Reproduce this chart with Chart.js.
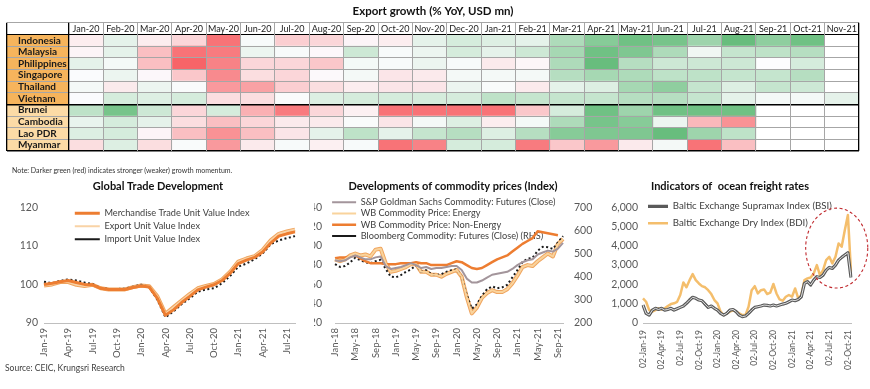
<!DOCTYPE html>
<html>
<head>
<meta charset="utf-8">
<script src="https://cdn.jsdelivr.net/npm/chart.js@4.4.0/dist/chart.umd.min.js"></script>
<style>
  body { margin: 0; width: 870px; height: 389px; background: #fff; position: relative; overflow: hidden; font-family: Lato, sans-serif; }
  .box { position: absolute; }
  .note { position: absolute; left: 12px; top: 166px; font-size: 7px; line-height: 8px; color: #333; }
  .src { position: absolute; left: 5px; top: 363px; font-size: 8.5px; line-height: 10px; color: #404040; }
</style>
</head>
<body>
<div class="box" style="left:0;top:0"><canvas id="heat" width="870" height="168"></canvas></div>
<div class="note">Note: Darker green (red) indicates stronger (weaker) growth momentum.</div>
<div class="box" style="left:0;top:176px"><canvas id="trade" width="300" height="187"></canvas></div>
<div class="box" style="left:296px;top:176px"><canvas id="commo" width="296" height="189"></canvas></div>
<div class="box" style="left:592px;top:176px"><canvas id="freight" width="278" height="199"></canvas></div>
<div class="src">Source: CEIC, Krungsri Research</div>

<script>
Chart.defaults.font.family = 'Lato';
Chart.defaults.color = '#595959';
Chart.defaults.animation = false;

// ---- heatmap: export growth momentum (-1 = darkest red, 1 = darkest green)
const months = ['Jan-20', 'Feb-20', 'Mar-20', 'Apr-20', 'May-20', 'Jun-20', 'Jul-20', 'Aug-20', 'Sep-20', 'Oct-20', 'Nov-20', 'Dec-20',
  'Jan-21', 'Feb-21', 'Mar-21', 'Apr-21', 'May-21', 'Jun-21', 'Jul-21', 'Aug-21', 'Sep-21', 'Oct-21', 'Nov-21'];
const countries = ['Indonesia', 'Malaysia', 'Philippines', 'Singapore', 'Thailand', 'Vietnam', 'Brunei', 'Cambodia', 'Lao PDR', 'Myanmar'];

const indonesia = [-0.1, 0.15, -0.1, -0.25, -0.9, 0.03, -0.3, -0.25, -0.05, -0.1, 0.15, 0.25, 0.2, 0.15, 0.5, 0.75, 0.9, 0.85, 0.6, 0.95, 0.7, 0.9, null];
const malaysia = [-0.05, 0.15, -0.4, -0.9, -0.85, 0.1, 0.03, -0.03, 0.3, 0.03, 0.1, 0.25, 0.15, 0.3, 0.55, 0.9, 0.8, 0.5, 0.08, 0.35, 0.4, 0.45, null];
const philippines = [0.15, 0.05, -0.4, -1.0, -0.8, -0.25, -0.25, -0.35, 0.05, 0.03, 0.1, 0.03, -0.12, -0.04, 0.5, 0.95, 0.45, 0.3, 0.3, 0.3, 0, 0.25, null];
const singapore = [0.01, 0.1, -0.03, -0.35, -0.75, -0.2, -0.25, -0.02, 0.05, -0.15, -0.12, 0.05, 0.05, 0.05, 0.45, 0.55, 0.5, 0.4, 0.4, 0.35, 0.35, 0.45, null];
const thailand = [0.05, -0.12, 0.1, 0.02, -0.65, -0.6, -0.3, -0.2, -0.1, -0.15, -0.15, 0.1, 0.02, -0.12, 0.15, 0.2, 0.55, 0.7, 0.35, 0.2, 0.35, 0.3, null];
const vietnam = [0.01, 0.25, 0.2, 0.25, -0.2, -0.2, 0.02, 0.2, 0.25, 0.25, 0.25, 0.25, 0.4, 0.35, 0.35, 0.35, 0.45, 0.45, 0.35, 0.15, 0.05, 0.05, 0.15];
const brunei = [0.4, 0.85, 0.3, -0.25, 0.25, -0.5, -0.85, -0.25, -0.08, -0.9, -0.9, -0.9, -0.9, -0.35, 0.25, 0.9, 0.6, 0.9, 0.9, 0.9, null, null, null];
const cambodia = [0.12, 0.25, 0.15, -0.2, -0.4, -0.25, -0.12, -0.12, 0.02, -0.15, 0.05, 0.2, -0.1, 0.05, 0.5, 0.85, 0.75, 0.1, -0.45, -0.7, null, null, null];
const laos = [0.2, 0.25, -0.05, -0.4, -0.7, -0.4, -0.15, 0.15, 0.4, 0.15, 0.35, 0.45, 0.2, 0.45, 0.75, 0.8, 0.8, 0.95, 0.6, 0.4, null, null, null];
const myanmar = [-0.2, 0.2, -0.2, 0.02, -0.65, -0.12, 0.03, -0.08, 0.03, -0.9, -0.8, 0.25, 0.25, -0.85, -0.35, -0.65, -0.12, 0.05, -0.9, -0.4, null, null, null];

// ---- global trade (index)
const tradeMonths = monthLabels(2019, 0, 32);
const merchandise = [100.0, 100.3, 100.7, 101.0, 100.5, 100.0, 99.9, 99.0, 98.7, 98.7, 98.7, 99.2,
  99.6, 99.3, 96.4, 92.0, 93.4, 95.3, 96.9, 98.6, 99.3, 99.9, 101.0, 102.9,
  105.4, 106.3, 107.0, 108.4, 110.7, 112.5, 113.1, 113.6];
const exportIdx = [99.7, 100.0, 100.6, 100.6, 99.9, 99.6, 99.9, 99.0, 98.7, 98.7, 98.7, 99.3,
  99.7, 99.5, 96.9, 92.4, 94.1, 95.8, 97.5, 99.0, 99.6, 100.1, 101.3, 103.3,
  105.9, 106.7, 107.3, 108.9, 111.4, 113.1, 113.7, 114.2];
const importIdx = [100.7, 100.3, 100.9, 101.3, 101.0, 100.5, 100.1, 99.0, 98.8, 98.8, 98.9, 99.4,
  99.9, 99.3, 96.0, 91.5, 93.0, 94.9, 96.4, 98.1, 98.7, 99.0, 100.3, 102.2,
  104.6, 105.4, 106.5, 108.0, 110.4, 111.4, 112.0, 112.5];

// ---- commodity prices (index; Bloomberg on RHS)
const commoMonths = monthLabels(2018, 0, 46);
const gsci = [85, 84, 85, 88, 90, 88, 86, 86, 88, 89, 79, 76,
  77, 78, 80, 82, 80, 77, 78, 76, 77, 77, 78, 79,
  79, 75, 66, 62, 62, 64, 67, 70, 71, 72, 73, 76,
  80, 83, 85, 86, 91, 93, 95, 94, 97, 103];
const energy = [86, 84, 86, 90, 92, 90, 91, 89, 96, 97, 82, 73,
  74, 76, 78, 81, 81, 73, 73, 70, 70, 68, 71, 73,
  75, 68, 47, 30, 36, 46, 51, 54, 52, 52, 55, 61,
  69, 78, 80, 79, 84, 88, 92, 89, 102, 107];
const nonEnergy = [87, 88, 88, 89, 90, 87, 84, 82, 82, 82, 81, 81,
  81, 82, 82, 82, 83, 82, 82, 80, 80, 80, 80, 82,
  84, 83, 80, 77, 76, 77, 80, 83, 86, 88, 90, 94,
  98, 102, 105, 108, 115, 114, 113, 112, 111, null];
const bloomberg = [454, 442, 446, 462, 482, 471, 462, 458, 467, 473, 433, 400,
  397, 407, 421, 431, 450, 421, 428, 411, 407, 411, 421, 428,
  431, 400, 322, 262, 280, 318, 346, 358, 350, 354, 365, 397,
  428, 463, 477, 482, 512, 529, 527, 520, 548, 575];

// ---- ocean freight (semi-monthly readings)
const freightDates = freightLabels(2019, 68);
const bsi = [930, 500, 410, 670, 760, 700, 760, 670, 700, 760, 670, 740,
  810, 880, 1020, 1190, 1330, 1280, 1190, 1155, 980, 810, 880, 760,
  670, 500, 410, 500, 670, 700, 590, 410, 330, 360, 500, 670,
  810, 845, 880, 930, 915, 880, 930, 880, 930, 980, 1020, 1100,
  1190, 1155, 1220, 1360, 2050, 2140, 1970, 2220, 2400, 2360, 2480, 2740,
  2880, 2830, 3000, 3260, 3400, 3520, 3640, 2360];
const bdi = [1275, 1100, 670, 590, 670, 760, 700, 760, 880, 980, 1020, 1100,
  1450, 2100, 1850, 2220, 2530, 2220, 2050, 1910, 1850, 1700, 1500, 1190,
  1020, 590, 410, 500, 590, 670, 590, 500, 410, 410, 845, 1700,
  1910, 1530, 1700, 1740, 1500, 1570, 2020, 1530, 1220, 1155, 1360, 1450,
  1360, 1790, 1280, 1450, 2220, 2310, 2360, 2570, 3000, 2480, 2740, 3260,
  3430, 3090, 3430, 4120, 3950, 4810, 5600, 2650];

function monthLabels(year, month, count) {
  const names = ['Jan', 'Feb', 'Mar', 'Apr', 'May', 'Jun', 'Jul', 'Aug', 'Sep', 'Oct', 'Nov', 'Dec'];
  const out = [];
  for (let i = 0; i < count; i++) {
    const m = month + i;
    out.push(names[m % 12] + '-' + String((year + Math.floor(m / 12)) % 100).padStart(2, '0'));
  }
  return out;
}

function freightLabels(year, count) {
  const out = [];
  monthLabels(year, 0, Math.ceil(count / 2)).forEach(m => { out.push('02-' + m, '16-' + m); });
  return out.slice(0, count);
}

// colour scale like Excel's red - white - green
function heatColor(v) {
  if (v === null) return '#ffffff';
  const t = Math.min(Math.abs(v), 1);
  const end = v >= 0 ? [96, 186, 118] : [247, 100, 104];
  const start = [252, 252, 254];
  const c = start.map((s, i) => Math.round(s + (end[i] - s) * t));
  return 'rgb(' + c.join(',') + ')';
}

// puts a chartArea legend at an offset from the plot's top-left corner
const legendShift = {
  id: 'legendShift',
  afterLayout(chart, args, opts) {
    const lg = chart.legend;
    if (!lg) return;
    lg.left = chart.chartArea.left + (opts.x || 0);
    lg.top = chart.chartArea.top + (opts.y || 0);
    lg.right = chart.width;
    lg.bottom = chart.height;
  }
};

// dashed ellipse highlight
const ellipseMark = {
  id: 'ellipseMark',
  afterDatasetsDraw(chart, args, o) {
    const { x, y } = chart.scales;
    const cx = x.getPixelForValue(o.at), cy = y.getPixelForValue(o.value);
    const rx = Math.abs(x.getPixelForValue(o.at + o.spanX) - cx);
    const ry = Math.abs(y.getPixelForValue(o.value + o.spanY) - cy);
    const ctx = chart.ctx;
    ctx.save();
    ctx.setLineDash([3, 2.5]);
    ctx.strokeStyle = '#C0282D';
    ctx.lineWidth = 1.1;
    ctx.beginPath();
    ctx.ellipse(cx, cy, rx, ry, 0, 0, Math.PI * 2);
    ctx.stroke();
    ctx.restore();
  }
};

// fixed axis sizes so the plots line up with the page
const fixWidth = w => s => { s.width = w; };
const fixHeight = h => s => { s.height = h; s.paddingLeft = 0; s.paddingRight = 0; };

// ---------- heatmap table ----------
const scores = [indonesia, malaysia, philippines, singapore, thailand, vietnam, brunei, cambodia, laos, myanmar];
const rowLabels = [''].concat(countries);
const LABEL_COL = 1.8;   // width of the country column, in month columns

const heatSets = months.map((m, j) => ({
  label: m,
  data: rowLabels.map(() => [j - 0.5, j + 0.5]),
  backgroundColor: rowLabels.map((r, k) => k === 0 ? '#ffffff' : heatColor(scores[k - 1][j]))
}));
heatSets.push({
  label: 'country',
  data: rowLabels.map(() => [-0.5 - LABEL_COL, -0.5]),
  backgroundColor: rowLabels.map((r, k) => k === 0 ? '#ffffff' : (k <= 6 ? '#F6B45C' : '#FCDBA6'))
});

const frameTicks = [-0.5 - LABEL_COL].concat(months.map((m, i) => i - 0.5), [months.length - 0.5]);

new Chart(document.getElementById('heat'), {
  type: 'bar',
  data: { labels: rowLabels, datasets: heatSets },
  options: {
    indexAxis: 'y',
    responsive: false,
    datasets: { bar: { grouped: false, barPercentage: 1, categoryPercentage: 1, borderWidth: 0 } },
    layout: { padding: { left: 7, right: 11, bottom: 5 } },
    plugins: {
      legend: { display: false },
      tooltip: { enabled: false },
      title: {
        display: true, text: 'Export growth (% YoY, USD mn)', color: '#111',
        font: { size: 11.5, weight: 'bold' }, padding: { top: 4, bottom: 5 }
      }
    },
    scales: {
      y: {
        type: 'category',
        offset: true,
        afterFit: fixWidth(0),
        border: { display: false },
        grid: {
          offset: true, drawTicks: false, z: 1,
          color: c => (c.index === undefined || c.index === 1 || c.index === 7) ? '#000' : '#a6a6a6',
          lineWidth: c => (c.index === undefined || c.index === 7) ? 1.6 : 1
        },
        ticks: { mirror: true, autoSkip: false, padding: 11, z: 1, color: '#1a1a1a', font: { size: 10, weight: 'bold' } }
      },
      x: {
        type: 'linear',
        min: -0.5 - LABEL_COL, max: months.length - 0.5,
        position: { y: -0.5 },
        afterBuildTicks: s => { s.ticks = months.map((m, i) => ({ value: i })); },
        border: { display: false },
        grid: { display: false, drawTicks: false },
        ticks: { z: 1, padding: 1, autoSkip: false, maxRotation: 0, color: '#222', font: { size: 9 },
          callback: v => months[v] ?? '' }
      },
      xf: {
        axis: 'x', type: 'linear',
        min: -0.5 - LABEL_COL, max: months.length - 0.5,
        position: { y: -0.5 },
        afterBuildTicks: s => { s.ticks = frameTicks.map(v => ({ value: v })); },
        border: { display: false },
        ticks: { display: false },
        grid: {
          drawTicks: false, z: 1,
          color: c => (c.index <= 1 || c.index === frameTicks.length - 1) ? '#000' : '#a6a6a6',
          lineWidth: c => (c.index <= 1 || c.index === frameTicks.length - 1) ? 1.3 : 1
        }
      }
    }
  }
});

// ---------- Global Trade Development ----------
const lineBase = { pointRadius: 0, borderJoinStyle: 'round', tension: 0 };

new Chart(document.getElementById('trade'), {
  type: 'line',
  data: {
    labels: tradeMonths,
    datasets: [
      { ...lineBase, label: 'Merchandise Trade Unit Value Index', data: merchandise, borderColor: '#ED7D31', borderWidth: 3, order: 0 },
      { ...lineBase, label: 'Export Unit Value Index', data: exportIdx, borderColor: '#F9D3A6', borderWidth: 2, order: 1 },
      { ...lineBase, label: 'Import Unit Value Index', data: importIdx, borderColor: '#1a1a1a', borderWidth: 2, borderDash: [2, 2.5], order: 2 },
      { ...lineBase, label: 'edge', data: exportIdx, borderColor: '#F0A55F', borderWidth: 4, order: 3 }
    ]
  },
  options: {
    responsive: false,
    layout: { padding: { left: 21, right: 5 } },
    plugins: {
      tooltip: { enabled: false },
      title: { display: true, text: 'Global Trade Development', color: '#111', font: { size: 11, weight: 'bold' }, padding: { top: 4, bottom: 14 } },
      legend: {
        position: 'chartArea', align: 'start',
        labels: { usePointStyle: true, pointStyle: 'line', pointStyleWidth: 25, padding: 3.8, color: '#404040', font: { size: 9.2 },
          filter: item => item.text !== 'edge' }
      },
      legendShift: { x: 27, y: -2.4 }
    },
    scales: {
      x: {
        afterFit: fixHeight(40),
        grid: { display: false, drawTicks: false },
        border: { color: '#bfbfbf' },
        ticks: { autoSkip: false, minRotation: 90, maxRotation: 90, padding: 5, font: { size: 9.5 },
          callback(v, i) { return i % 3 === 0 ? this.getLabelForValue(v) : ''; } }
      },
      y: {
        min: 90, max: 120,
        afterFit: fixWidth(23),
        grid: { display: false, drawTicks: false },
        border: { display: false },
        ticks: { stepSize: 10, padding: 6, font: { size: 10.5 } }
      }
    }
  },
  plugins: [legendShift]
});

// ---------- Developments of commodity prices ----------
new Chart(document.getElementById('commo'), {
  type: 'line',
  data: {
    labels: commoMonths,
    datasets: [
      { ...lineBase, label: 'S&P Goldman Sachs Commodity: Futures (Close)', data: gsci, borderColor: '#A3959B', borderWidth: 2, order: 0 },
      { ...lineBase, label: 'WB Commodity Price: Energy', data: energy, borderColor: '#F9D39C', borderWidth: 2, order: 1 },
      { ...lineBase, label: 'WB Commodity Price: Non-Energy', data: nonEnergy, borderColor: '#ED7D31', borderWidth: 2.5, order: 2 },
      { ...lineBase, label: 'Bloomberg Commodity: Futures (Close) (RHS)', data: bloomberg, yAxisID: 'y1', borderColor: '#1a1a1a', borderWidth: 2, borderDash: [2, 2.5], order: 3 },
      { ...lineBase, label: 'edge', data: energy, borderColor: '#F0A55F', borderWidth: 4, order: 4 }
    ]
  },
  options: {
    responsive: false,
    layout: { padding: { left: 18, right: 0 } },
    plugins: {
      tooltip: { enabled: false },
      title: { display: true, text: 'Developments of commodity prices (Index)', color: '#111', font: { size: 11, weight: 'bold' }, padding: { top: 4, bottom: 14 } },
      legend: {
        position: 'chartArea', align: 'start',
        labels: { usePointStyle: true, pointStyle: 'line', pointStyleWidth: 24, padding: 2.1, color: '#404040', font: { size: 9.2 },
          filter: item => item.text !== 'edge' }
      },
      legendShift: { x: -5, y: -11.7 }
    },
    scales: {
      x: {
        afterFit: fixHeight(42),
        grid: { display: false, drawTicks: false },
        border: { color: '#bfbfbf' },
        ticks: { autoSkip: false, minRotation: 90, maxRotation: 90, padding: 5, font: { size: 9.5 },
          callback(v, i) { return i % 4 === 0 ? this.getLabelForValue(v) : ''; } }
      },
      y: {
        min: 20, max: 140,
        afterFit: fixWidth(21),
        grid: { display: false, drawTicks: false },
        border: { display: false },
        ticks: { stepSize: 20, padding: 13, font: { size: 10.5 } }
      },
      y1: {
        position: 'right', min: 200, max: 700,
        afterFit: fixWidth(29),
        grid: { display: false, drawTicks: false },
        border: { display: false },
        ticks: { stepSize: 100, padding: 11, font: { size: 10.5 } }
      }
    }
  },
  plugins: [legendShift]
});

// ---------- Indicators of ocean freight rates ----------
new Chart(document.getElementById('freight'), {
  type: 'line',
  data: {
    labels: freightDates,
    datasets: [
      { ...lineBase, label: 'centre', data: bsi, borderColor: '#E3E3E3', borderWidth: 1, order: 0 },
      { ...lineBase, label: 'Baltic Exchange Supramax Index (BSI)', data: bsi, borderColor: '#5A5A5A', borderWidth: 3.2, order: 1 },
      { ...lineBase, label: 'Baltic Exchange Dry Index (BDI)', data: bdi, borderColor: '#F4BE6C', borderWidth: 2.5, order: 2 }
    ]
  },
  options: {
    responsive: false,
    layout: { padding: { left: 17, right: 19 } },
    plugins: {
      tooltip: { enabled: false },
      title: { display: true, text: 'Indicators of  ocean freight rates', color: '#111', font: { size: 11, weight: 'bold' }, padding: { top: 4, bottom: 14 } },
      legend: {
        position: 'chartArea', align: 'start',
        labels: { usePointStyle: true, pointStyle: 'line', pointStyleWidth: 20, padding: 7.3, color: '#404040', font: { size: 9.7 },
          filter: item => item.text !== 'centre' }
      },
      legendShift: { x: -2.3, y: -13 },
      ellipseMark: { at: 62.4, value: 3880, spanX: 10, spanY: 2070 }
    },
    scales: {
      x: {
        afterFit: fixHeight(52),
        grid: { display: false, drawTicks: false },
        border: { color: '#bfbfbf' },
        ticks: { autoSkip: false, minRotation: 90, maxRotation: 90, padding: 7, font: { size: 8.5 },
          callback(v, i) { return i % 6 === 0 ? this.getLabelForValue(v) : ''; } }
      },
      y: {
        min: 0, max: 6000,
        afterFit: fixWidth(34),
        grid: { display: false, drawTicks: false },
        border: { display: false },
        ticks: { stepSize: 1000, padding: 5, font: { size: 10.5 }, callback: v => v.toLocaleString('en-US') }
      }
    }
  },
  plugins: [legendShift, ellipseMark]
});
</script>
</body>
</html>
